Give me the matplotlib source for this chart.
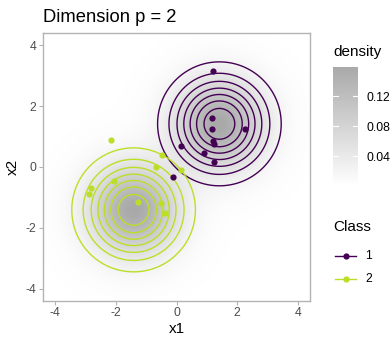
import numpy as np
import matplotlib
matplotlib.use("Agg")
import matplotlib.pyplot as plt
from matplotlib.colors import LinearSegmentedColormap
from matplotlib.lines import Line2D

plt.rcParams['font.family'] = ['Liberation Sans', 'DejaVu Sans']

# ---- data ----
class_labels = ["1", "2"]
class_colors = ["#440154", "#BBDF27"]
mean1 = [1.414, 1.414]
mean2 = [-1.414, -1.414]
c1_x = [1.19, 1.16, 1.17, 2.25, 1.21, 1.22, 0.15, 0.90, 1.23, -0.13]
c1_y = [3.15, 1.62, 1.24, 1.23, 0.85, 0.75, 0.67, 0.45, 0.17, -0.33]
c2_x = [-2.15, -0.49, -0.66, 0.15, -2.06, -2.83, -2.87, -1.26, -0.52, -0.37]
c2_y = [0.88, 0.39, -0.01, -0.09, -0.46, -0.69, -0.88, -1.15, -1.18, -1.53]
contour_levels = [0.02, 0.04, 0.06, 0.08, 0.10, 0.12, 0.14]
x_ticks = [-4, -2, 0, 2, 4]
y_ticks = [-4, -2, 0, 2, 4]
density_ticks = [0.04, 0.08, 0.12]

W, H = 392, 339
fig = plt.figure(figsize=(W / 100, H / 100), dpi=100)

def fx(px):
    return px / W

def fy(py):
    return 1 - py / H

# panel
L, R, T, B = 43, 310, 33, 300.7
ax = fig.add_axes([fx(L), fy(B), fx(R) - fx(L), fy(T) - fy(B)])
lim = 4.4
g = np.linspace(-lim, lim, 300)
GX, GY = np.meshgrid(g, g)

def dens(m):
    return np.exp(-((GX - m[0]) ** 2 + (GY - m[1]) ** 2) / 2) / (2 * np.pi)

d1 = dens(mean1)
d2 = dens(mean2)
total = d1 + d2
cmap = LinearSegmentedColormap.from_list("g", ["#FFFFFF", "#A9A9A9"])
im = ax.imshow(total, extent=[-lim, lim, -lim, lim], origin="lower", cmap=cmap,
               vmin=total.min(), vmax=total.max(), interpolation="bilinear", aspect="auto")
ax.contour(GX, GY, d1, levels=contour_levels, colors=class_colors[0], linewidths=1.0)
ax.contour(GX, GY, d2, levels=contour_levels, colors=class_colors[1], linewidths=1.0)
ax.scatter(c1_x, c1_y, s=20, color=class_colors[0], zorder=5, linewidths=0)
ax.scatter(c2_x, c2_y, s=20, color=class_colors[1], zorder=5, linewidths=0)
ax.set_xlim(-lim, lim)
ax.set_ylim(-lim, lim)
ax.set_xticks(x_ticks)
ax.set_yticks(y_ticks)
ax.set_xticklabels([str(v) for v in x_ticks])
ax.set_yticklabels([str(v) for v in y_ticks])
ax.tick_params(colors="#B3B3B3", labelcolor="#4D4D4D", labelsize=8.8, length=2.75, width=0.8, pad=2)
for s in ax.spines.values():
    s.set_color("#B3B3B3")
    s.set_linewidth(1.0)
ax.set_xlabel("x1", fontsize=11, labelpad=2)
ax.set_ylabel("x2", fontsize=11, labelpad=4)
fig.text(fx(43), fy(22), "Dimension p = 2", fontsize=13.2, ha="left", va="baseline")

# density colorbar
cb_top, cb_bot = 67, 186
cax = fig.add_axes([fx(333.3), fy(cb_bot), fx(25), (cb_bot - cb_top) / H])
cb = fig.colorbar(im, cax=cax, ticks=density_ticks)
cb.outline.set_visible(False)
cax.tick_params(length=0, labelsize=8.8, pad=6, labelcolor="#000000")
cax.set_yticklabels([f"{v:.2f}" for v in density_ticks])
for v in density_ticks:
    cax.plot([0, 0.2], [v, v], color="white", lw=0.8, transform=cax.get_yaxis_transform())
    cax.plot([0.8, 1.0], [v, v], color="white", lw=0.8, transform=cax.get_yaxis_transform())
fig.text(fx(333), fy(51.7), "density", fontsize=11, ha="left", va="center")

# class legend
fig.text(fx(333), fy(227), "Class", fontsize=11, ha="left", va="center")
key_y = [255.7, 279.3]
for lab, col, ky in zip(class_labels, class_colors, key_y):
    fig.add_artist(Line2D([fx(335), fx(356)], [fy(ky), fy(ky)], color=col, lw=1.0,
                          transform=fig.transFigure))
    fig.add_artist(Line2D([fx(345.5)], [fy(ky)], marker="o", markersize=4.5, color=col,
                          markeredgewidth=0, transform=fig.transFigure))
    fig.text(fx(365), fy(ky), lab, fontsize=8.8, ha="left", va="center")

fig.savefig("out.png", dpi=100)
